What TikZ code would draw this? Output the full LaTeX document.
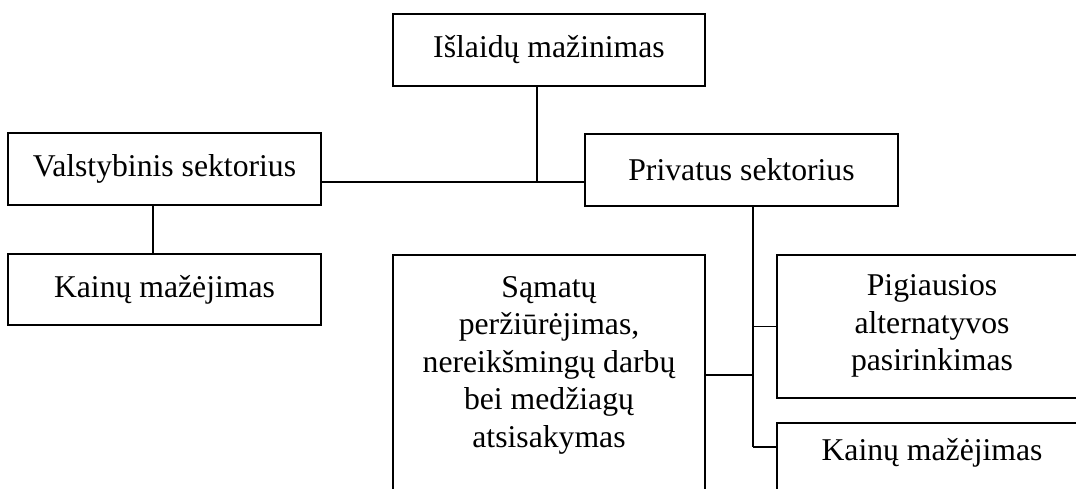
\documentclass[tikz,border=0pt]{standalone}
\usepackage{fontspec}
\setmainfont{Liberation Serif}
\begin{document}
\begin{tikzpicture}[x=1pt,y=-1pt,
  box/.style={draw=black,line width=1.6pt,inner sep=0pt,align=center,
    font={\fontsize{31.7}{37.5}\selectfont}},
  conn/.style={line width=1.6pt}]
\useasboundingbox (0,0) rectangle (1076,489);
\clip (0,0) rectangle (1076,489);
\node[box,minimum width=312,minimum height=72] (top) at (549,50) {Išlaidų mažinimas};
\node[box,minimum width=313,minimum height=72] (vals) at (164.5,169) {Valstybinis sektorius};
\node[box,minimum width=313,minimum height=71] (kainL) at (164.5,289.5) {Kainų mažėjimas};
\node[box,minimum width=313,minimum height=72] (priv) at (741.5,170) {Privatus sektorius};
\node[box,minimum width=312,minimum height=300,anchor=north] (sam) at (549,254)
  {Sąmatų\\peržiūrėjimas,\\nereikšmingų darbų\\bei medžiagų\\atsisakymas\\\strut~\\\strut~};
\node[box,minimum width=310,minimum height=143,anchor=north] (pig) at (932,254)
  {Pigiausios\\alternatyvos\\pasirinkimas};
\node[box,minimum width=310,minimum height=102,anchor=north] (kainR) at (932,422)
  {Kainų mažėjimas\\\strut~};
\coordinate (j) at (537,182);
\coordinate (pb) at (753,447);
\draw[conn] (top.south -| j) -- (j);
\draw[conn] (vals.east |- j) -- (priv.west |- j);
\draw[conn] (vals.south -| 153,0) -- (kainL.north -| 153,0);
\draw[conn] (priv.south -| pb) -- (pb);
\draw[conn] (pb) -- (kainR.west |- pb);
\draw[conn] (pig.west) -- (pig.west -| pb);
\draw[conn] (sam.east |- 0,375) -- (pb |- 0,375);
\end{tikzpicture}
\end{document}
